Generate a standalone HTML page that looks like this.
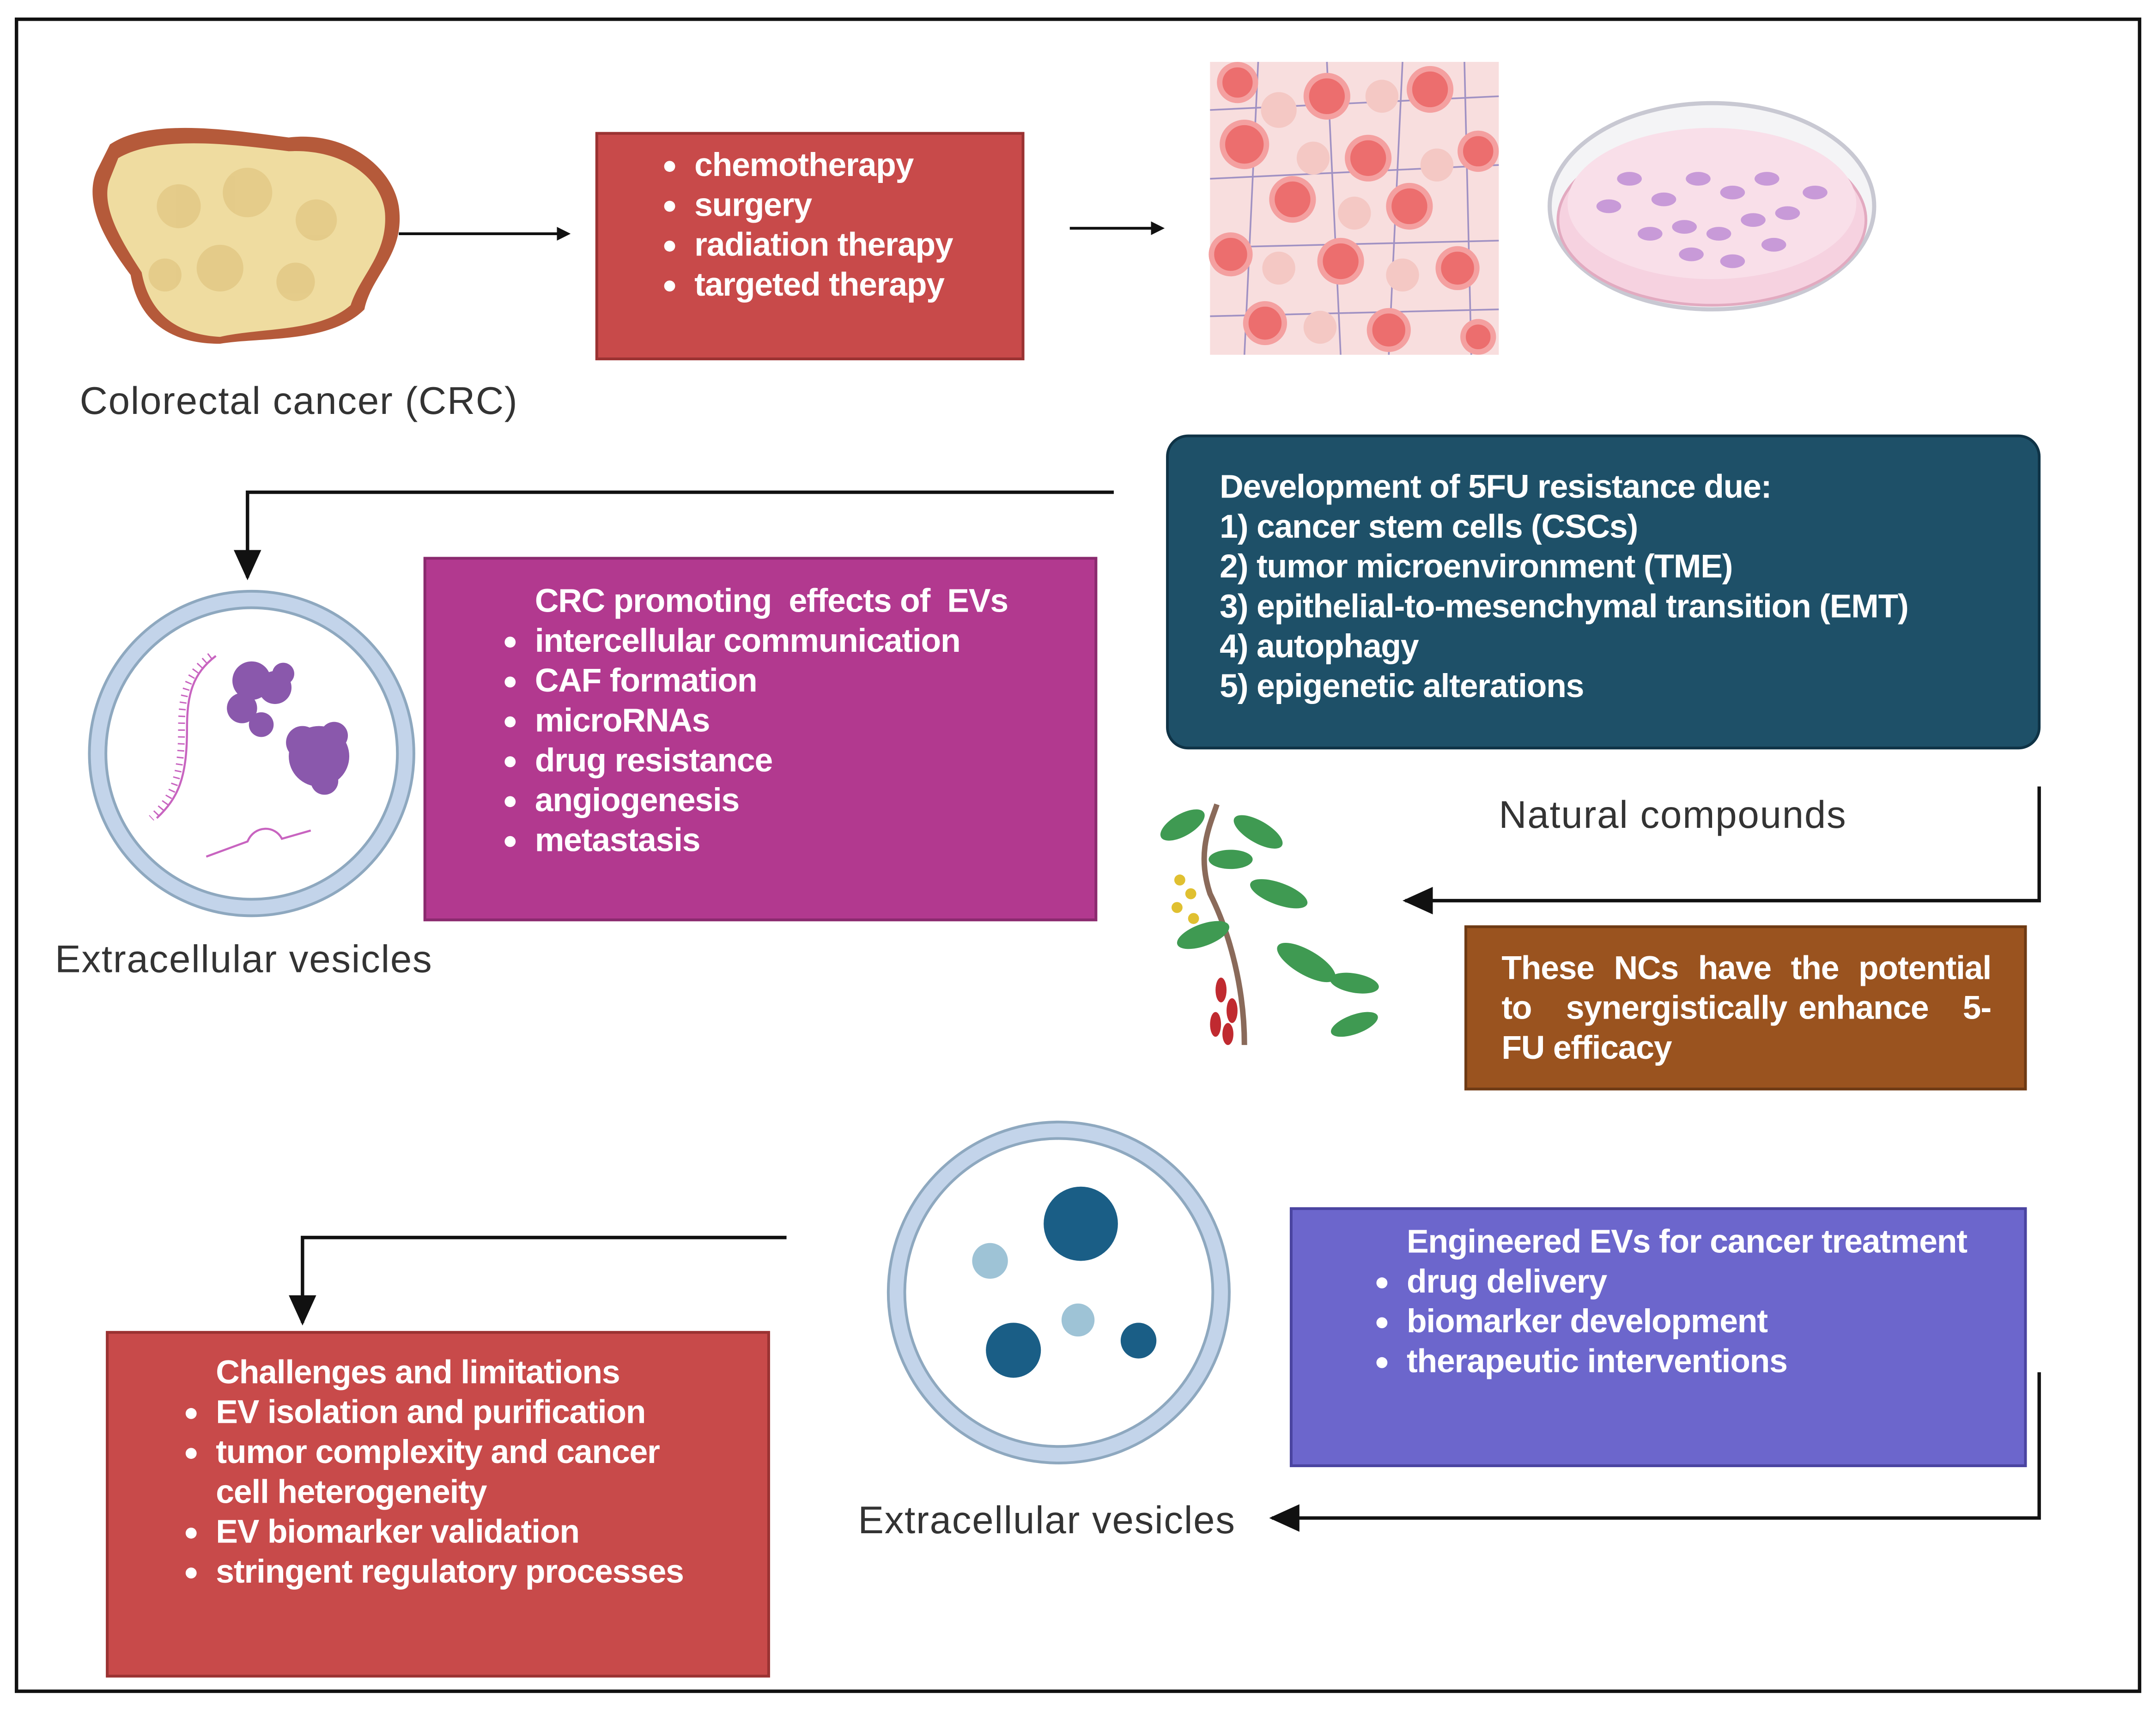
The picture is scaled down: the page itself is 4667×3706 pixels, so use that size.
<!DOCTYPE html>
<html><head><meta charset="utf-8"><style>
html,body{margin:0;padding:0;background:#fff;}
body{width:4667px;height:3704px;overflow:hidden;position:relative;}
#s{position:absolute;left:0;top:0;width:1568px;height:1245px;transform:scale(2.9765);transform-origin:0 0;font-family:"Liberation Sans Narrow","Liberation Sans",sans-serif;}
.box{position:absolute;box-sizing:border-box;color:#fff;font-weight:bold;font-size:24px;line-height:29px;letter-spacing:-0.4px;}
.lbl{position:absolute;font-family:"Liberation Sans",sans-serif;font-size:28px;letter-spacing:0.6px;color:#333;white-space:nowrap;}
ul{margin:0;padding:0;list-style:none;}
li{position:relative;}
li:before{content:"";position:absolute;left:-22px;top:11px;width:8px;height:8px;border-radius:50%;background:#fff;}
svg{position:absolute;left:0;top:0;}
</style></head><body><div id="s">
<svg width="1568" height="1245" viewBox="0 0 1568 1245">
<defs><marker id="a" markerWidth="10" markerHeight="10" refX="8" refY="5" orient="auto" markerUnits="userSpaceOnUse"><path d="M0,0 L10,5 L0,10z" fill="#111"/></marker>
<marker id="b" markerWidth="22" markerHeight="20" refX="20" refY="10" orient="auto" markerUnits="userSpaceOnUse"><path d="M0,0 L22,10 L0,20z" fill="#111"/></marker></defs>
<rect x="12" y="14" width="1544" height="1216" fill="none" stroke="#111" stroke-width="2.5"/>
<!-- tumor -->
<path d="M80,105 C110,85 170,95 210,100 C250,95 285,120 290,150 C295,185 270,200 265,225 C240,250 190,245 160,250 C120,250 100,230 95,200 C80,180 60,150 70,125z" fill="#b55a3a"/>
<path d="M86,115 C115,98 170,105 210,110 C250,108 278,130 280,155 C282,185 262,200 255,222 C232,242 190,238 160,245 C125,243 108,225 103,198 C90,178 72,150 80,130z" fill="#efdca0"/>
<g fill="#e2c884" opacity=".8"><circle cx="130" cy="150" r="16"/><circle cx="180" cy="140" r="18"/><circle cx="230" cy="160" r="15"/><circle cx="160" cy="195" r="17"/><circle cx="215" cy="205" r="14"/><circle cx="120" cy="200" r="12"/></g>
<line x1="290" y1="170" x2="413" y2="170" stroke="#111" stroke-width="2" marker-end="url(#a)"/>
<line x1="778" y1="166" x2="845" y2="166" stroke="#111" stroke-width="2" marker-end="url(#a)"/>
<!-- tissue -->
<rect x="880" y="45" width="210" height="213" fill="#f8dede"/>
<g stroke="#7a70b8" stroke-width="1.2" fill="none" opacity=".7"><path d="M880,80 L1090,70 M880,130 L1090,120 M880,180 L1090,175 M880,230 L1090,225 M915,45 L905,258 M965,45 L975,258 M1020,45 L1010,258 M1065,45 L1070,258"/></g>
<g fill="#ec6e6e" stroke="#f4a0a0" stroke-width="4">
<circle cx="900" cy="60" r="13"/><circle cx="965" cy="70" r="15"/><circle cx="1040" cy="65" r="15"/><circle cx="905" cy="105" r="16"/><circle cx="995" cy="115" r="15"/><circle cx="1075" cy="110" r="13"/><circle cx="940" cy="145" r="15"/><circle cx="1025" cy="150" r="15"/><circle cx="895" cy="185" r="14"/><circle cx="975" cy="190" r="15"/><circle cx="1060" cy="195" r="14"/><circle cx="920" cy="235" r="14"/><circle cx="1010" cy="240" r="14"/><circle cx="1075" cy="245" r="11"/></g>
<g fill="#f4c8c4"><circle cx="930" cy="80" r="13"/><circle cx="1005" cy="70" r="12"/><circle cx="955" cy="115" r="12"/><circle cx="1045" cy="120" r="12"/><circle cx="985" cy="155" r="12"/><circle cx="930" cy="195" r="12"/><circle cx="1020" cy="200" r="12"/><circle cx="960" cy="238" r="12"/></g>
<!-- petri -->
<ellipse cx="1245" cy="150" rx="118" ry="75" fill="#f4f4f6" stroke="#c8c8d2" stroke-width="3"/>
<ellipse cx="1245" cy="160" rx="112" ry="62" fill="#f6d2e0" stroke="#e2aac0" stroke-width="2"/>
<ellipse cx="1245" cy="148" rx="105" ry="55" fill="#f9dfe9"/>
<g fill="#c89ad8"><ellipse cx="1185" cy="130" rx="9" ry="5"/><ellipse cx="1210" cy="145" rx="9" ry="5"/><ellipse cx="1235" cy="130" rx="9" ry="5"/><ellipse cx="1260" cy="140" rx="9" ry="5"/><ellipse cx="1285" cy="130" rx="9" ry="5"/><ellipse cx="1300" cy="155" rx="9" ry="5"/><ellipse cx="1275" cy="160" rx="9" ry="5"/><ellipse cx="1250" cy="170" rx="9" ry="5"/><ellipse cx="1225" cy="165" rx="9" ry="5"/><ellipse cx="1200" cy="170" rx="9" ry="5"/><ellipse cx="1230" cy="185" rx="9" ry="5"/><ellipse cx="1260" cy="190" rx="9" ry="5"/><ellipse cx="1290" cy="178" rx="9" ry="5"/><ellipse cx="1170" cy="150" rx="9" ry="5"/><ellipse cx="1320" cy="140" rx="9" ry="5"/></g>
<!-- connectors -->
<polyline points="810,358 180,358 180,420" fill="none" stroke="#111" stroke-width="2.5" marker-end="url(#b)"/>
<polyline points="1483,572 1483,655 1022,655" fill="none" stroke="#111" stroke-width="2.5" marker-end="url(#b)"/>
<polyline points="1483,998 1483,1104 925,1104" fill="none" stroke="#111" stroke-width="2.5" marker-end="url(#b)"/>
<polyline points="572,900 220,900 220,962" fill="none" stroke="#111" stroke-width="2.5" marker-end="url(#b)"/>
<!-- EV1 -->
<circle cx="183" cy="548" r="112" fill="#fff" stroke="#8ea8bf" stroke-width="14"/>
<circle cx="183" cy="548" r="112" fill="none" stroke="#c3d4ea" stroke-width="10"/>
<path d="M157,477 C140,490 136,505 136,530 C136,565 130,580 114,595" fill="none" stroke="#c864c0" stroke-width="1.5"/>
<path d="M157,477 C140,490 136,505 136,530 C136,565 130,580 114,595" fill="none" stroke="#c864c0" stroke-width="5" stroke-dasharray="1 4" transform="translate(-4,0)"/>
<g fill="#8a58ac"><circle cx="183" cy="495" r="14"/><circle cx="200" cy="500" r="12"/><circle cx="176" cy="515" r="11"/><circle cx="190" cy="527" r="9"/><circle cx="206" cy="490" r="8"/><circle cx="232" cy="550" r="22"/><circle cx="220" cy="540" r="12"/><circle cx="243" cy="535" r="10"/><circle cx="236" cy="568" r="10"/></g>
<path d="M150,623 L180,612 C185,600 200,600 205,610 L226,604" fill="none" stroke="#c864c0" stroke-width="1.5"/>
<!-- EV2 -->
<circle cx="770" cy="940" r="118" fill="#fff" stroke="#8ea8bf" stroke-width="14"/>
<circle cx="770" cy="940" r="118" fill="none" stroke="#c3d4ea" stroke-width="10"/>
<circle cx="786" cy="890" r="27" fill="#1a5e86"/>
<circle cx="737" cy="982" r="20" fill="#1a5e86"/>
<circle cx="828" cy="975" r="13" fill="#1a5e86"/>
<circle cx="720" cy="917" r="13" fill="#9ec3d6"/>
<circle cx="784" cy="960" r="12" fill="#9ec3d6"/>
<!-- plant -->
<path d="M905,760 C905,720 895,680 880,650 C870,620 880,600 885,585" fill="none" stroke="#8a6a5a" stroke-width="4"/>
<g fill="#3f9a52"><ellipse cx="860" cy="600" rx="18" ry="8" transform="rotate(-30 860 600)"/><ellipse cx="915" cy="605" rx="20" ry="8" transform="rotate(30 915 605)"/><ellipse cx="930" cy="650" rx="22" ry="8" transform="rotate(20 930 650)"/><ellipse cx="875" cy="680" rx="20" ry="8" transform="rotate(-20 875 680)"/><ellipse cx="950" cy="700" rx="24" ry="9" transform="rotate(30 950 700)"/><ellipse cx="985" cy="715" rx="18" ry="7" transform="rotate(10 985 715)"/><ellipse cx="985" cy="745" rx="18" ry="7" transform="rotate(-20 985 745)"/><ellipse cx="895" cy="625" rx="16" ry="7"/></g>
<g fill="#e0c030"><circle cx="858" cy="640" r="4"/><circle cx="866" cy="650" r="4"/><circle cx="856" cy="660" r="4"/><circle cx="868" cy="668" r="4"/></g>
<g fill="#c02a30"><ellipse cx="888" cy="720" rx="4" ry="9"/><ellipse cx="896" cy="735" rx="4" ry="9"/><ellipse cx="884" cy="745" rx="4" ry="9"/><ellipse cx="893" cy="752" rx="4" ry="8"/></g>
</svg>
<div class="lbl" style="left:58px;top:276px;">Colorectal cancer (CRC)</div>
<div class="lbl" style="left:40px;top:682px;">Extracellular vesicles</div>
<div class="lbl" style="left:1090px;top:577px;">Natural compounds</div>
<div class="lbl" style="left:624px;top:1090px;">Extracellular vesicles</div>

<div class="box" style="left:433px;top:96px;width:312px;height:166px;background:#c84a4a;border:2px solid #9a3232;padding:8px 0 0 70px;"><ul><li>chemotherapy</li><li>surgery</li><li>radiation therapy</li><li>targeted therapy</li></ul></div>

<div class="box" style="left:848px;top:316px;width:636px;height:229px;background:#1e5068;border:2px solid #0f3346;border-radius:16px;padding:22px 0 0 37px;">Development of 5FU resistance due:<br>1) cancer stem cells (CSCs)<br>2) tumor microenvironment (TME)<br>3) epithelial-to-mesenchymal transition (EMT)<br>4) autophagy<br>5) epigenetic alterations</div>

<div class="box" style="left:308px;top:405px;width:490px;height:265px;background:#b2398f;border:2px solid #8a2a6e;padding:16px 0 0 79px;">CRC promoting&nbsp; effects of&nbsp; EVs<ul><li>intercellular communication</li><li>CAF formation</li><li>microRNAs</li><li>drug resistance</li><li>angiogenesis</li><li>metastasis</li></ul></div>

<div class="box" style="left:1065px;top:673px;width:409px;height:120px;background:#9a531f;border:2px solid #6e3a14;padding:15px 24px 0 25px;text-align:justify;">These NCs have the potential to&nbsp;&nbsp; synergistically enhance&nbsp;&nbsp; 5-FU efficacy</div>

<div class="box" style="left:938px;top:878px;width:536px;height:189px;background:#6c66cc;border:2px solid #4a44a0;padding:9px 0 0 83px;">Engineered EVs for cancer treatment<ul><li>drug delivery</li><li>biomarker development</li><li>therapeutic interventions</li></ul></div>

<div class="box" style="left:77px;top:968px;width:483px;height:252px;background:#c84a4a;border:2px solid #9a3232;padding:14px 0 0 78px;">Challenges and limitations<ul><li>EV isolation and purification</li><li>tumor complexity and cancer<br>cell heterogeneity</li><li>EV biomarker validation</li><li>stringent regulatory processes</li></ul></div>
</div></body></html>
